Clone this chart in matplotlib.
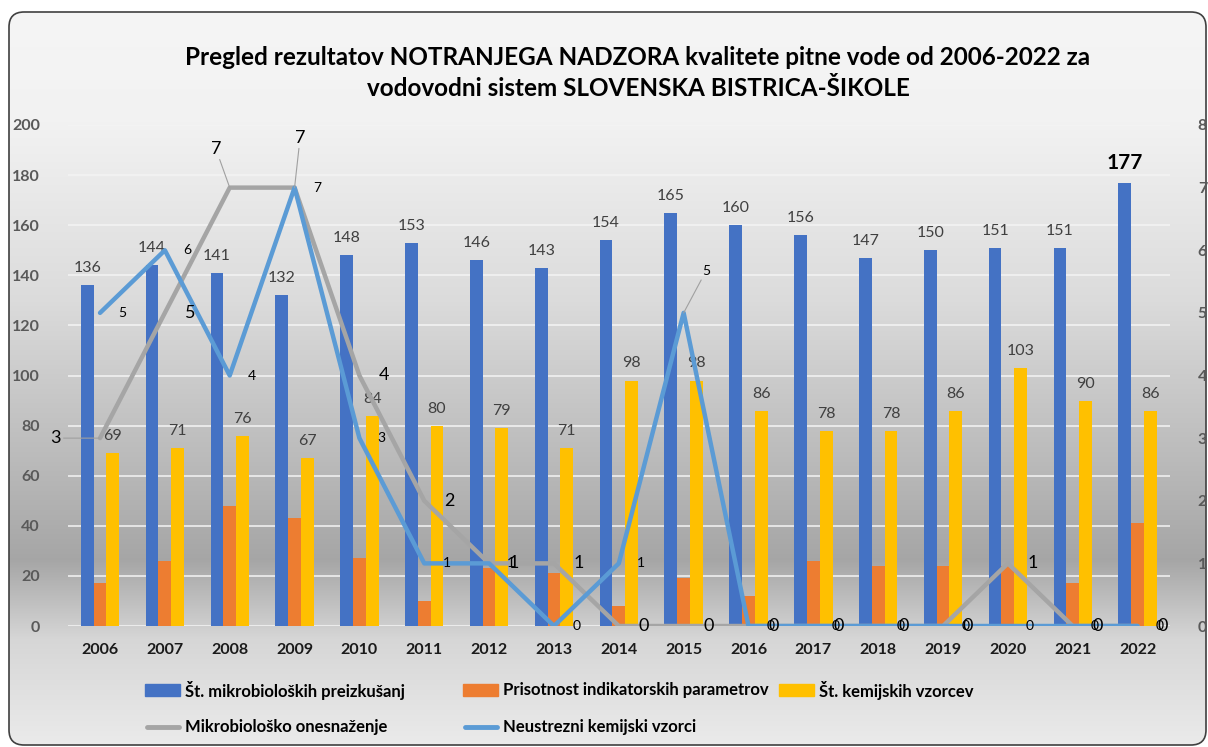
import matplotlib
matplotlib.use("Agg")
import matplotlib.pyplot as plt
import numpy as np
from matplotlib.patches import FancyBboxPatch, Rectangle
from matplotlib.lines import Line2D

plt.rcParams['font.family'] = ['Lato', 'DejaVu Sans']

years = ['2006', '2007', '2008', '2009', '2010', '2011', '2012', '2013', '2014',
         '2015', '2016', '2017', '2018', '2019', '2020', '2021', '2022']
mikro_preiz = [136, 144, 141, 132, 148, 153, 146, 143, 154, 165, 160, 156, 147, 150, 151, 151, 177]
indikator = [17, 26, 48, 43, 27, 10, 23, 21, 8, 19, 12, 26, 24, 24, 24, 17, 41]
kemijski = [69, 71, 76, 67, 84, 80, 79, 71, 98, 98, 86, 78, 78, 86, 103, 90, 86]
mikro_onesn = [3, 5, 7, 7, 4, 2, 1, 1, 0, 0, 0, 0, 0, 0, 1, 0, 0]
neustrezni = [5, 6, 4, 7, 3, 1, 1, 0, 1, 5, 0, 0, 0, 0, 0, 0, 0]

title = ("Pregled rezultatov NOTRANJEGA NADZORA kvalitete pitne vode od 2006-2022 za\n"
         "vodovodni sistem SLOVENSKA BISTRICA-ŠIKOLE")
legend_labels = ['Št. mikrobioloških preizkušanj', 'Prisotnost indikatorskih parametrov',
                 'Št. kemijskih vzorcev', 'Mikrobiološko onesnaženje', 'Neustrezni kemijski vzorci']

C_BLUE = '#4472C4'
C_ORANGE = '#ED7D31'
C_YELLOW = '#FFC000'
C_GRAY = '#A5A5A5'
C_LBLUE = '#5B9BD5'

W, H = 1208, 747
fig = plt.figure(figsize=(W / 100, H / 100), dpi=100)
fig.patch.set_facecolor('white')

# background gradient clipped to rounded frame
bg = fig.add_axes([0, 0, 1, 1], zorder=0)
FX0, FY0, FX1, FY1 = 9, 12, 1206, 745
stops_y = [FY0, 120, 300, 560, 640, FY1]
stops_c = [0.96, 0.95, 0.86, 0.65, 0.84, 0.92]
yy = np.linspace(FY0, FY1, 500)
g = np.interp(yy, stops_y, stops_c)
img = np.repeat(np.stack([g, g, g], axis=-1)[:, None, :], 2, axis=1)
im = bg.imshow(img, extent=[FX0, FX1, FY1, FY0], aspect='auto', interpolation='bilinear')
bg.set_xlim(0, W)
bg.set_ylim(H, 0)
bg.axis('off')
frame = FancyBboxPatch((FX0, FY0), FX1 - FX0, FY1 - FY0,
                       boxstyle="round,pad=0,rounding_size=15",
                       facecolor='none', edgecolor='#404040', linewidth=1.2, zorder=5)
bg.add_patch(frame)
im.set_clip_path(frame)

# main axes
L, R, T, B = 67.6, 1170, 125, 626
ax = fig.add_axes([L / W, (H - B) / H, (R - L) / W, (B - T) / H], zorder=2)
ax.patch.set_alpha(0)
x = np.arange(len(years))
bw = 0.197
ax.bar(x - bw, mikro_preiz, bw, color=C_BLUE, zorder=3)
ax.bar(x, indikator, bw, color=C_ORANGE, zorder=3)
ax.bar(x + bw, kemijski, bw, color=C_YELLOW, zorder=3)
ax.set_ylim(0, 200)
ax.set_xlim(-0.5, len(years) - 0.5)
ax.set_yticks(range(0, 201, 20))
ax.grid(axis='y', color='#f4f4f4', linewidth=1.3, alpha=0.85, zorder=1)
ax.set_axisbelow(True)
for s in ax.spines.values():
    s.set_visible(False)
ax.tick_params(axis='both', length=0)
ax.tick_params(axis='y', pad=20, labelsize=11.5, labelcolor='#595959')
ax.tick_params(axis='x', pad=12, labelsize=11.5)
ax.set_xticks(x)
ax.set_xticklabels(years, fontweight='bold', color='#1a1a1a')
for lab in ax.get_yticklabels():
    lab.set_fontweight('bold')

# bar labels
for i, v in enumerate(mikro_preiz):
    if i == len(mikro_preiz) - 1:
        ax.text(x[i] - bw, v + 4, str(v), ha='center', va='bottom', fontsize=15,
                fontweight='bold', color='black', zorder=6)
    else:
        ax.text(x[i] - bw, v + 4, str(v), ha='center', va='bottom', fontsize=11.5,
                color='#404040', zorder=6)
for i, v in enumerate(kemijski):
    ax.text(x[i] + bw, v + 4, str(v), ha='center', va='bottom', fontsize=11.5,
            color='#404040', zorder=6)

# secondary axis
ax2 = ax.twinx()
ax2.set_zorder(3)
ax2.patch.set_alpha(0)
ax2.set_ylim(0, 8)
ax2.set_yticks(range(0, 9))
for s in ax2.spines.values():
    s.set_visible(False)
ax2.tick_params(axis='y', length=0, pad=20, labelsize=11.5, labelcolor='#595959')
for lab in ax2.get_yticklabels():
    lab.set_fontweight('bold')
ax2.plot(x, mikro_onesn, color=C_GRAY, linewidth=3.2, zorder=4, solid_capstyle='round')
ax2.plot(x, neustrezni, color=C_LBLUE, linewidth=3.2, zorder=5, solid_capstyle='round')

# line labels (offsets in points)
gray_off = {0: (-32, 0), 2: (-10, 28), 3: (4, 36)}
for i, v in enumerate(mikro_onesn):
    dx, dy = gray_off.get(i, (18, 0))
    ax2.annotate(str(v), (x[i], v), xytext=(dx, dy), textcoords='offset points',
                 ha='center', va='center', fontsize=13, color='black', zorder=7,
                 arrowprops=dict(arrowstyle='-', color='#a0a0a0', lw=0.8,
                                 shrinkA=0, shrinkB=0) if i in gray_off else None)
blue_off = {9: (16, 30)}
for i, v in enumerate(neustrezni):
    dx, dy = blue_off.get(i, (16, 0))
    ax2.annotate(str(v), (x[i], v), xytext=(dx, dy), textcoords='offset points',
                 ha='center', va='center', fontsize=10, color='black', zorder=7,
                 arrowprops=dict(arrowstyle='-', color='#a0a0a0', lw=0.8,
                                 shrinkA=0, shrinkB=0) if i in blue_off else None)

# title
fig.text(638 / W, 1 - 73 / H, title, ha='center', va='center', fontsize=17.5,
         fontweight='bold', color='black', linespacing=1.45)

# legend (manual, matching positions)
row1_y, row2_y = 690, 727
patch_cols = [C_BLUE, C_ORANGE, C_YELLOW]
patch_x = [145, 463, 779]
for px, col, lab in zip(patch_x, patch_cols, legend_labels[:3]):
    fig.patches.append(Rectangle((px / W, 1 - (row1_y + 6) / H), 35 / W, 12 / H,
                                 transform=fig.transFigure, color=col, zorder=4))
    fig.text((px + 40) / W, 1 - row1_y / H, lab, ha='left', va='center',
             fontsize=12, fontweight='bold', color='black')
line_cols = [C_GRAY, C_LBLUE]
for px, col, lab in zip(patch_x[:2], line_cols, legend_labels[3:]):
    fig.lines.append(Line2D([(px + 2) / W, (px + 34) / W], [1 - row2_y / H, 1 - row2_y / H],
                            transform=fig.transFigure, color=col, lw=3.5,
                            solid_capstyle='round', zorder=4))
    fig.text((px + 40) / W, 1 - row2_y / H, lab, ha='left', va='center',
             fontsize=12, fontweight='bold', color='black')

fig.savefig('out.png', dpi=100)
